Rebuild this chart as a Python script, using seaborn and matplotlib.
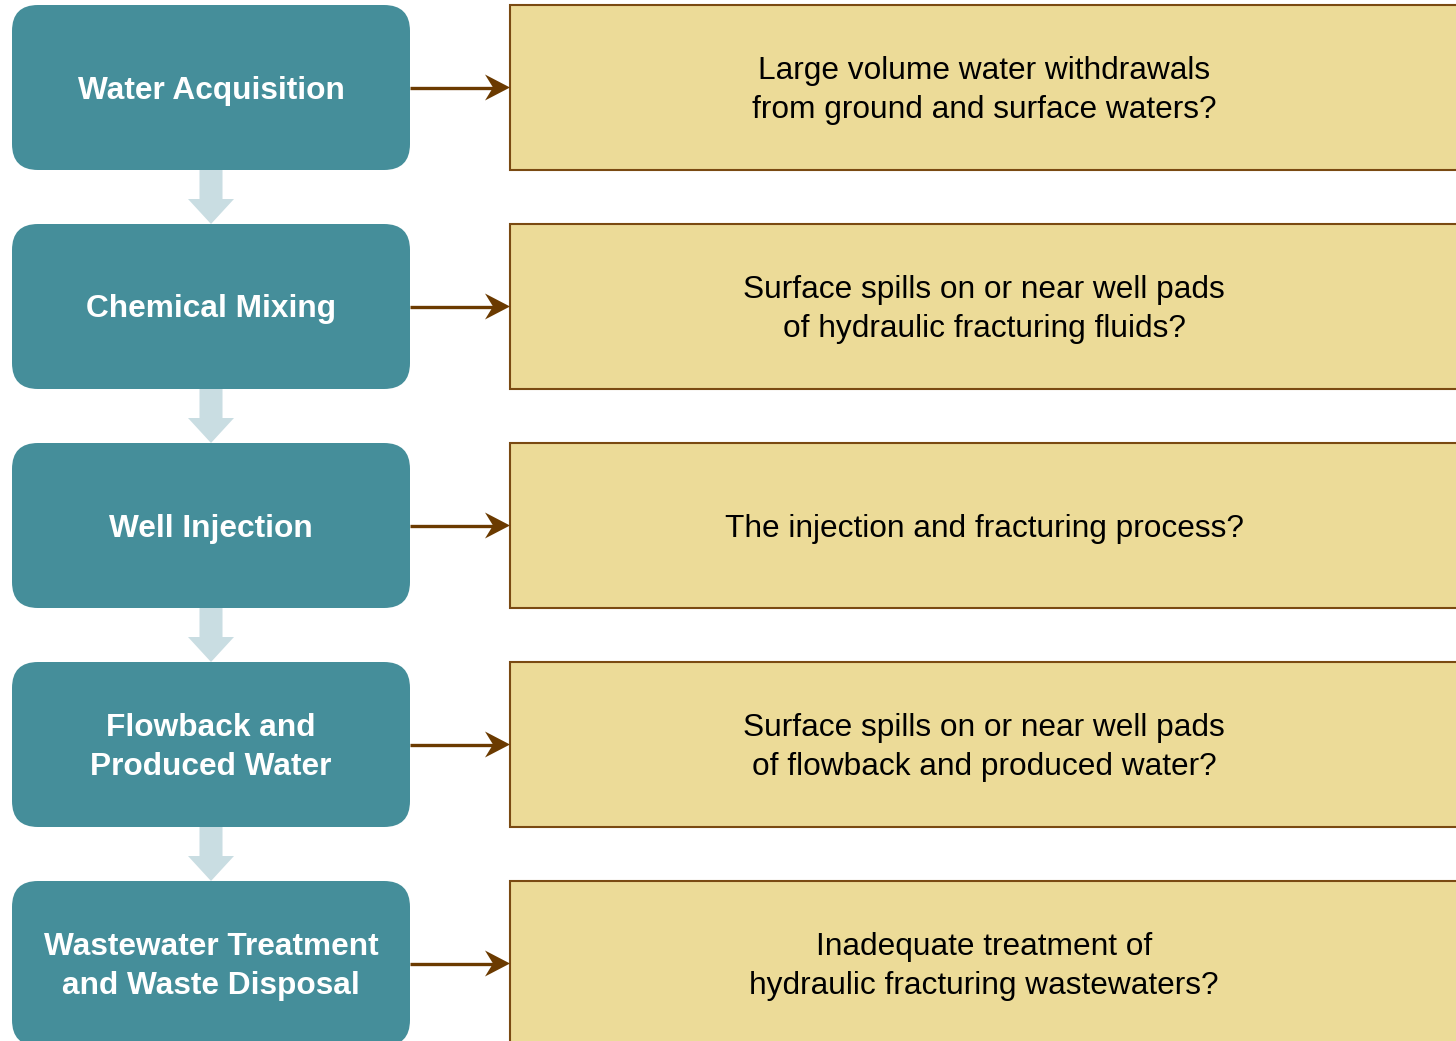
import matplotlib.pyplot as plt
import seaborn as sns
from matplotlib.patches import FancyBboxPatch, Rectangle, Polygon

# Steps of the hydraulic fracturing water cycle and the matching questions
steps = [
    "Water Acquisition",
    "Chemical Mixing",
    "Well Injection",
    "Flowback and\nProduced Water",
    "Wastewater Treatment\nand Waste Disposal",
]
questions = [
    "Large volume water withdrawals\nfrom ground and surface waters?",
    "Surface spills on or near well pads\nof hydraulic fracturing fluids?",
    "The injection and fracturing process?",
    "Surface spills on or near well pads\nof flowback and produced water?",
    "Inadequate treatment of\nhydraulic fracturing wastewaters?",
]

# colours
step_color = "#458e9a"
down_color = "#c9dde2"
q_fill = "#ecdb98"
q_edge = "#7a4a12"
arrow_color = "#6b3a00"

sns.set_theme(style="white")
plt.rcParams['font.family'] = ['Liberation Sans', 'DejaVu Sans']

W, H = 1456, 1041
fig = plt.figure(figsize=(W / 100, H / 100), dpi=100)
ax = fig.add_axes([0, 0, 1, 1])
ax.set_xlim(0, W)
ax.set_ylim(H, 0)
ax.set_axis_off()

# layout
top = 5
pitch = 219
box_h = 165
left_x0, left_x1 = 12, 410
right_x0, right_x1 = 510, 1480
right_cx = 984

for i, (step, q) in enumerate(zip(steps, questions)):
    y0 = top + i * pitch
    yc = y0 + box_h / 2

    ax.add_patch(FancyBboxPatch((left_x0, y0), left_x1 - left_x0, box_h,
                                boxstyle="round,pad=0,rounding_size=26",
                                fc=step_color, ec="none"))
    ax.text((left_x0 + left_x1) / 2, yc + 3, step, ha="center", va="center",
            color="white", fontsize=22.8, fontweight="bold", linespacing=1.38)

    ax.add_patch(Rectangle((right_x0, y0), right_x1 - right_x0, box_h,
                           fc=q_fill, ec=q_edge, lw=1.5))
    ax.text(right_cx, yc + 3, q, ha="center", va="center",
            color="black", fontsize=22.8, linespacing=1.37)

    # horizontal connector with stealth head
    ax.plot([left_x1, right_x0 - 12], [yc, yc], color=arrow_color, lw=2.4,
            solid_capstyle="butt")
    ax.add_patch(Polygon([(right_x0, yc), (right_x0 - 25, yc - 13),
                          (right_x0 - 17, yc), (right_x0 - 25, yc + 13)],
                         closed=True, fc=arrow_color, ec="none"))

    # downward block arrow between steps
    if i < len(steps) - 1:
        cx = (left_x0 + left_x1) / 2
        a0 = y0 + box_h
        a1 = top + (i + 1) * pitch
        ax.add_patch(Polygon([(cx - 11.5, a0), (cx + 11.5, a0),
                              (cx + 11.5, a0 + 29), (cx + 23, a0 + 29),
                              (cx, a1), (cx - 23, a0 + 29),
                              (cx - 11.5, a0 + 29)],
                             closed=True, fc=down_color, ec="none"))

fig.savefig("out.png", dpi=100)
